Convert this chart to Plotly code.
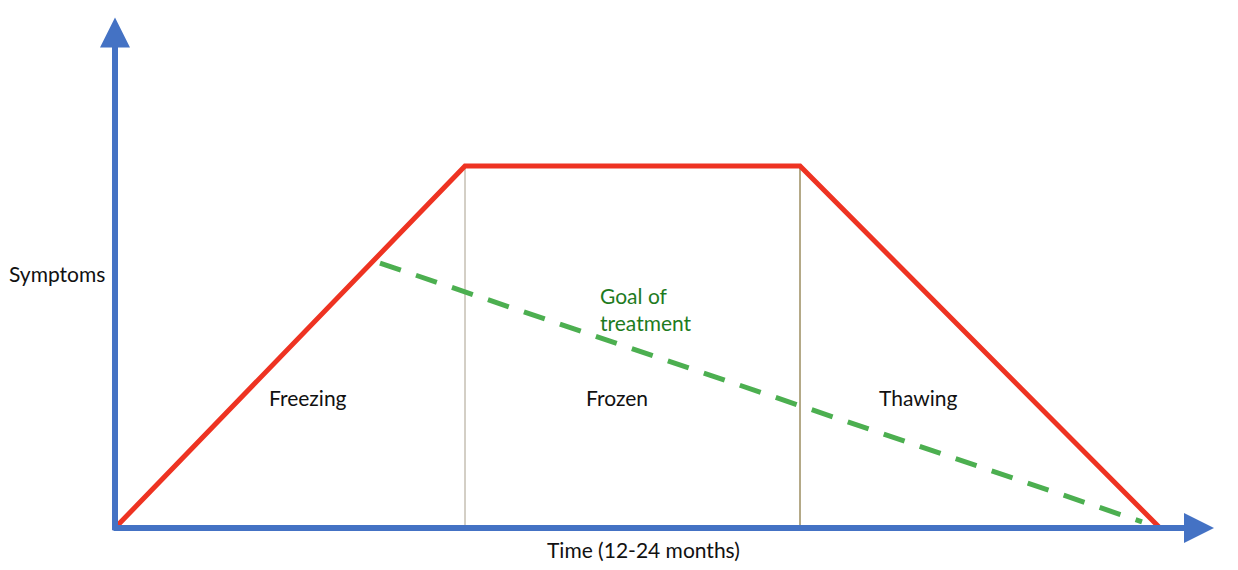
import plotly.graph_objects as go

# stage boundaries along the time axis (arbitrary units) and symptom level
stage_time = [0, 3.5, 6.85, 10.45]
stage_symptoms = [0, 1.0, 1.0, 0]

goal_time = [2.65, 10.27]
goal_symptoms = [0.732, 0.017]

divider_time = [3.5, 6.85]
divider_colors = ["#A89F8C", "#6B5410"]

stage_labels = ["Freezing", "Frozen", "Thawing"]
stage_label_x = [1.93, 5.02, 8.03]
stage_label_y = 0.36

axis_end_x = 10.99
axis_end_y = 1.41

fig = go.Figure()

for t, c in zip(divider_time, divider_colors):
    fig.add_trace(go.Scatter(x=[t, t], y=[0, 1.0], mode="lines",
                             line=dict(color=c, width=1), hoverinfo="skip"))

fig.add_trace(go.Scatter(x=goal_time, y=goal_symptoms, mode="lines",
                         line=dict(color="#4CAF50", width=5, dash="22px,16px"),
                         hoverinfo="skip"))

fig.add_trace(go.Scatter(x=stage_time, y=stage_symptoms, mode="lines",
                         line=dict(color="#EE3322", width=5), hoverinfo="skip"))

blue = "#4472C4"
# axes as arrows
fig.add_annotation(x=0, y=axis_end_y, ax=0, ay=-0.01, xref="x", yref="y",
                   axref="x", ayref="y", showarrow=True, arrowhead=2,
                   arrowsize=1.0, arrowwidth=6, arrowcolor=blue, text="")
fig.add_annotation(x=axis_end_x, y=0, ax=-0.03, ay=0, xref="x", yref="y",
                   axref="x", ayref="y", showarrow=True, arrowhead=2,
                   arrowsize=1.0, arrowwidth=6, arrowcolor=blue, text="")

font = dict(family="Lato", size=21, color="#111111")
for lab, lx in zip(stage_labels, stage_label_x):
    fig.add_annotation(x=lx, y=stage_label_y, text=lab, showarrow=False, font=font)

fig.add_annotation(x=-0.58, y=0.703, text="Symptoms", showarrow=False, font=font)
fig.add_annotation(x=5.28, y=-0.06, text="Time (12-24 months)", showarrow=False, font=font)
fig.add_annotation(x=4.83, y=0.605, text="Goal of<br>treatment", showarrow=False,
                   align="left", xanchor="left",
                   font=dict(family="Lato", size=21, color="#1E7B1E"))

# page body adds an 8px offset, so the ranges are shifted to compensate
fig.update_layout(
    width=1238, height=570,
    margin=dict(l=0, r=0, t=0, b=0),
    plot_bgcolor="white", paper_bgcolor="white",
    showlegend=False,
    xaxis=dict(range=[-1.07, 11.31], visible=False, fixedrange=True),
    yaxis=dict(range=[-0.1381, 1.4365], visible=False, fixedrange=True),
)

fig.write_html("out.html")
